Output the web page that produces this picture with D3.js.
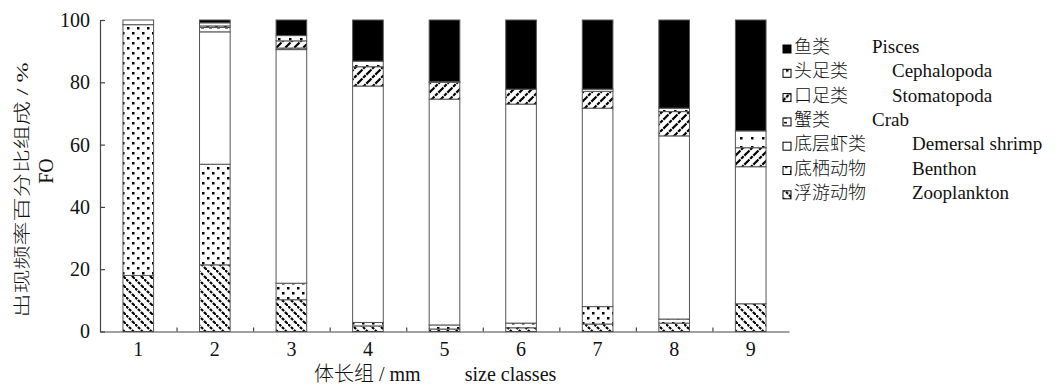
<!DOCTYPE html>
<html lang="zh">
    <head>
        <meta charset="utf-8">
        <script type="text/javascript" src="https://cdn.jsdelivr.net/npm/d3@7/dist/d3.min.js"></script>
        <style type="text/css">
        body{
          margin: 0;
          background: #fff;
        }
        text{
          font-family: "Liberation Serif", "Noto Sans CJK SC", serif;
          fill: #111;
        }
        .cjk{
          font-weight: 300;
        }
        </style>
    </head>
    <body>

        <script type="text/javascript">
        // Size classes and percentage of each prey group (bottom to top of the stack)
        var sizeClasses = ["1", "2", "3", "4", "5", "6", "7", "8", "9"];
        var zooplankton    = [18.0, 21.4, 10.2, 1.8, 0.8, 1.2, 2.4, 2.7, 8.9];
        var benthon        = [80.5, 32.3, 5.3, 1.1, 1.3, 1.5, 5.6, 1.3, 0];
        var demersalShrimp = [1.5, 42.5, 75.0, 75.9, 72.5, 70.3, 63.7, 58.8, 44.0];
        var crab           = [0, 1.4, 0.5, 0, 0, 0, 0, 0, 0];
        var stomatopoda    = [0, 0.5, 2.3, 6.2, 5.4, 4.8, 5.4, 7.8, 6.1];
        var cephalopoda    = [0, 1.0, 1.7, 1.8, 0.2, 0, 0.7, 1.1, 5.4];
        var pisces         = [0, 0.9, 5.0, 13.2, 19.8, 22.2, 22.2, 28.3, 35.6];

        var seriesNames = ["浮游动物", "底栖动物", "底层虾类", "蟹类", "口足类", "头足类", "鱼类"];
        var seriesEnglish = ["Zooplankton", "Benthon", "Demersal shrimp", "Crab", "Stomatopoda", "Cephalopoda", "Pisces"];
        var yTicks = [0, 20, 40, 60, 80, 100];

        var w = 1062;
        var h = 387;

        var svg = d3.select("body")
          .append("svg")
          .attr("width", w)
          .attr("height", h);

        // fill patterns
        var defs = svg.append("defs");
        var fills = ["url(#zoo)", "url(#ben)", "#fff", "url(#crab)", "url(#stoma)", "url(#ceph)", "#000"];

        var p = defs.append("pattern").attr("id", "zoo").attr("patternUnits", "userSpaceOnUse")
          .attr("width", 9).attr("height", 9);
        p.append("rect").attr("width", 9).attr("height", 9).attr("fill", "#fff");
        p.append("path").attr("d", "M-1,-1 l2,2 M0,0 l9,9 M8,8 l2,2")
          .attr("stroke", "#000").attr("stroke-width", 2.2).attr("stroke-dasharray", "3,1.2");

        p = defs.append("pattern").attr("id", "stoma").attr("patternUnits", "userSpaceOnUse")
          .attr("width", 9).attr("height", 9);
        p.append("rect").attr("width", 9).attr("height", 9).attr("fill", "#fff");
        p.append("path").attr("d", "M0,9 l9,-9 M-1,1 l2,-2 M8,10 l2,-2")
          .attr("stroke", "#000").attr("stroke-width", 2.2).attr("stroke-dasharray", "3.5,1");

        p = defs.append("pattern").attr("id", "ben").attr("patternUnits", "userSpaceOnUse")
          .attr("width", 10).attr("height", 10);
        p.append("rect").attr("width", 10).attr("height", 10).attr("fill", "#fff");
        p.append("rect").attr("x", 2).attr("y", 2).attr("width", 2.5).attr("height", 2.5).attr("fill", "#000");
        p.append("rect").attr("x", 7).attr("y", 7).attr("width", 2.5).attr("height", 2.5).attr("fill", "#000");

        p = defs.append("pattern").attr("id", "crab").attr("patternUnits", "userSpaceOnUse")
          .attr("width", 8).attr("height", 5);
        p.append("rect").attr("width", 8).attr("height", 5).attr("fill", "#fff");
        p.append("rect").attr("x", 1).attr("y", 2).attr("width", 3).attr("height", 1.5).attr("fill", "#000");

        p = defs.append("pattern").attr("id", "ceph").attr("patternUnits", "userSpaceOnUse")
          .attr("width", 11).attr("height", 9);
        p.append("rect").attr("width", 11).attr("height", 9).attr("fill", "#fff");
        p.append("rect").attr("x", 3).attr("y", 2).attr("width", 2.5).attr("height", 2.5).attr("fill", "#000");

        // scales
        var xScale = d3.scaleBand()
          .domain(sizeClasses)
          .range([100, 789])
          .paddingInner(0.6)
          .paddingOuter(0.3);

        var yScale = d3.scaleLinear()
          .domain([0, 100])
          .range([331.5, 20]);

        // build the stacked table
        var table = sizeClasses.map(function(d, i) {
          return {cls: d, s0: zooplankton[i], s1: benthon[i], s2: demersalShrimp[i],
                  s3: crab[i], s4: stomatopoda[i], s5: cephalopoda[i], s6: pisces[i]};
        });
        var stack = d3.stack().keys(["s0", "s1", "s2", "s3", "s4", "s5", "s6"])(table);

        // bars
        svg.selectAll("g.layer")
          .data(stack)
          .enter()
          .append("g")
          .attr("class", "layer")
          .attr("fill", function(d, i) { return fills[i]; })
          .selectAll("rect")
          .data(function(d) { return d; })
          .enter()
          .filter(function(d) { return d[1] - d[0] > 0; })
          .append("rect")
          .attr("x", function(d) { return xScale(d.data.cls); })
          .attr("y", function(d) { return yScale(d[1]); })
          .attr("width", xScale.bandwidth())
          .attr("height", function(d) { return yScale(d[0]) - yScale(d[1]); })
          .attr("stroke", "#555")
          .attr("stroke-width", 1);

        // y axis with inward ticks
        var yAxis = svg.append("g")
          .attr("transform", "translate(100,0)")
          .call(d3.axisLeft(yScale).tickValues(yTicks).tickSize(-5).tickSizeOuter(0).tickPadding(10));
        yAxis.selectAll("text").style("font-size", "20px").attr("fill", "#111");

        // x axis: labels under bars, short ticks between bars
        var xAxis = svg.append("g")
          .attr("transform", "translate(0," + yScale(0) + ")")
          .call(d3.axisBottom(xScale).tickSize(0).tickPadding(10));
        xAxis.selectAll("text").style("font-size", "20px").attr("fill", "#111");

        var sepScale = d3.scaleLinear().domain([0, sizeClasses.length]).range(xScale.range());
        svg.append("g")
          .attr("transform", "translate(0," + yScale(0) + ")")
          .call(d3.axisBottom(sepScale).tickValues(d3.range(1, sizeClasses.length)).tickSize(-4).tickFormat(""))
          .select(".domain").remove();

        svg.selectAll(".domain, .tick line").attr("stroke", "#444").attr("stroke-width", 1.2);

        // axis titles
        svg.append("text")
          .attr("class", "cjk")
          .attr("transform", "translate(28,190) rotate(-90)")
          .attr("text-anchor", "middle")
          .attr("textLength", 255)
          .attr("lengthAdjust", "spacingAndGlyphs")
          .style("font-size", "17px")
          .text("出现频率百分比组成 / %");

        svg.append("text")
          .attr("transform", "translate(53,171) rotate(-90)")
          .attr("text-anchor", "middle")
          .style("font-size", "20px")
          .text("FO");

        var xTitle = svg.append("text")
          .attr("class", "cjk")
          .attr("x", 314)
          .attr("y", 381)
          .style("font-size", "20px")
          .text("体长组 / mm");
        xTitle.append("tspan")
          .attr("dx", 44)
          .text("size classes");

        // legend (top entry is the top of the stack)
        var legend = svg.selectAll("g.legend")
          .data(d3.range(seriesNames.length).reverse())
          .enter()
          .append("g")
          .attr("class", "legend")
          .attr("transform", function(d, i) { return "translate(783," + (52 + i * 24.3) + ")"; });

        legend.append("rect")
          .attr("y", -7)
          .attr("width", 8)
          .attr("height", 8)
          .attr("fill", function(d) { return fills[d]; })
          .attr("stroke", "#000")
          .attr("stroke-width", 1);

        legend.append("text")
          .attr("class", "cjk")
          .attr("x", 11)
          .attr("y", 1)
          .style("font-size", "18px")
          .text(function(d) { return seriesNames[d]; });

        legend.append("text")
          .attr("x", function(d) { return 11 + seriesNames[d].length * 20 + 38; })
          .attr("y", 1)
          .style("font-size", "19px")
          .text(function(d) { return seriesEnglish[d]; });
        </script>
    </body>
</html>
